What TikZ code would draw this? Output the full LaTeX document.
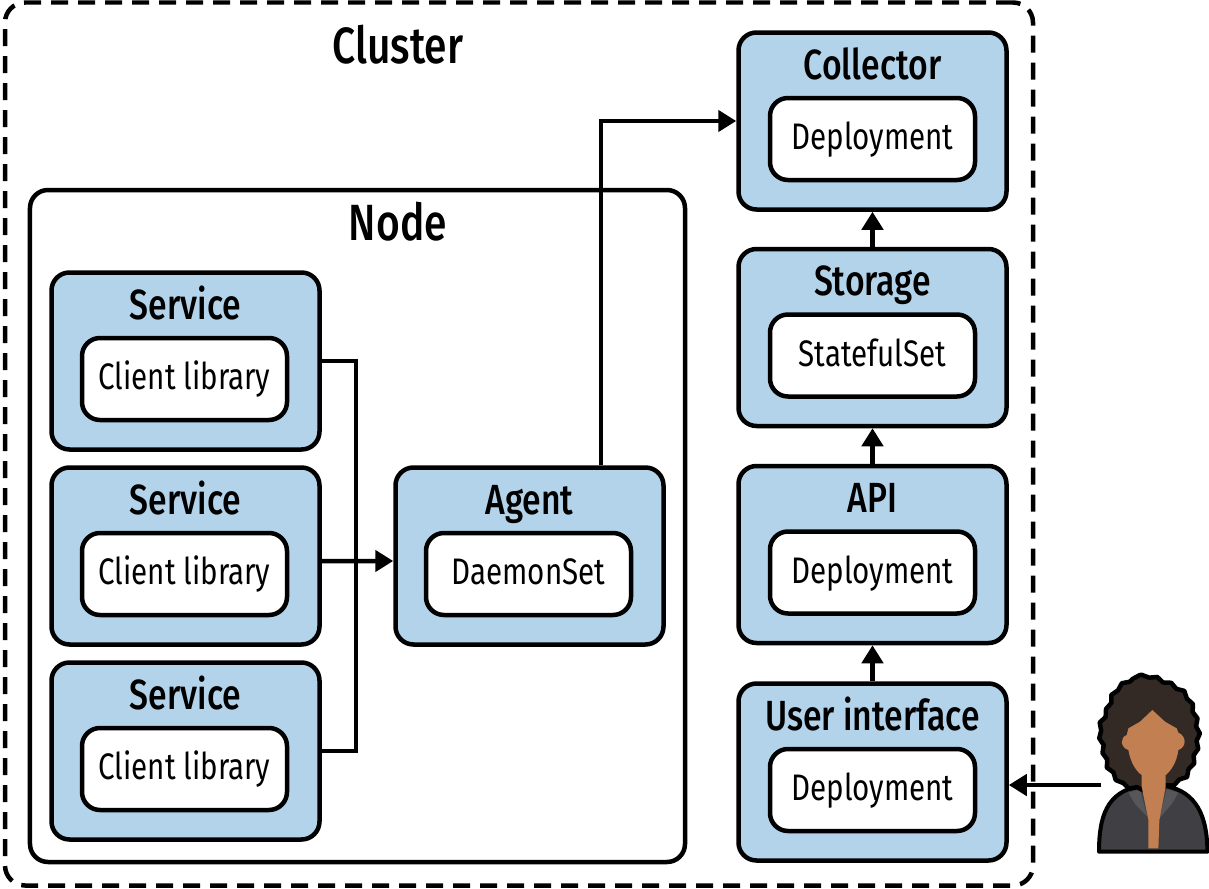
\documentclass[tikz,border=0pt]{standalone}
\usepackage{fontspec}
\setmainfont[FakeStretch=0.8]{Fira Sans}
\newfontfamily\titlefont[FakeStretch=0.8]{Fira Sans Medium}
\usepackage{xcolor}
\usetikzlibrary{arrows.meta,decorations.pathmorphing}
\definecolor{boxblue}{HTML}{B2D3EA}
\definecolor{hairbrown}{HTML}{332A26}
\definecolor{skintone}{HTML}{C17F52}
\definecolor{jacketgrey}{HTML}{403F44}
\definecolor{lapelgrey}{HTML}{57565A}
\tikzset{
    outerbox/.style = {rectangle, rounded corners=0.36cm, minimum width=5.36cm, minimum height=3.54cm, draw=black, line width=0.09cm, fill=boxblue},
    innerbox/.style = {rectangle, rounded corners=0.36cm, minimum width=4.1cm, minimum height=1.64cm, text centered, text height=0.6cm, text depth=0.18cm, draw=black, line width=0.09cm, fill=white, font=\fontsize{21}{25}\selectfont},
    boxtitle/.style = {anchor=base, font=\titlefont\fontsize{24}{28}\selectfont, inner sep=0pt},
    bigtitle/.style = {anchor=base, font=\titlefont\fontsize{29}{33}\selectfont, inner sep=0pt},
    arrow/.style = {line width=0.09cm,-{Triangle[length=0.36cm,width=0.42cm]}},
    wire/.style = {line width=0.09cm}
}

\begin{document}
\begin{tikzpicture}[node distance=3.9cm]
\useasboundingbox (0,0) rectangle (24.18,-17.78);
% outer frames
\node (cluster) [rectangle, rounded corners=0.4cm, minimum width=20.56cm, minimum height=17.66cm, draw=black, line width=0.09cm, dash pattern=on 0.34cm off 0.2cm] at (10.38,-8.88) {};
\node (clustertitle) [bigtitle] at (7.96,-1.26) {Cluster};
\node (node) [rectangle, rounded corners=0.36cm, minimum width=13.1cm, minimum height=13.44cm, draw=black, line width=0.09cm] at (7.15,-10.52) {};
\node (nodetitle) [bigtitle] at (7.96,-4.8) {Node};

% services on the left
\node (serviceA) [outerbox] at (3.71,-7.22) {};
\node (serviceB) [outerbox, below of=serviceA] {};
\node (serviceC) [outerbox, below of=serviceB] {};
\node (libA) [innerbox, xshift=-0.02cm, yshift=-0.36cm] at (serviceA) {Client library};
\node (libB) [innerbox, xshift=-0.02cm, yshift=-0.36cm] at (serviceB) {Client library};
\node (libC) [innerbox, xshift=-0.02cm, yshift=-0.36cm] at (serviceC) {Client library};
\node (titleA) [boxtitle, yshift=0.84cm] at (serviceA) {Service};
\node (titleB) [boxtitle, yshift=0.84cm] at (serviceB) {Service};
\node (titleC) [boxtitle, yshift=0.84cm] at (serviceC) {Service};

% agent
\node (agent) [outerbox] at (10.59,-11.12) {};
\node (daemon) [innerbox, xshift=-0.02cm, yshift=-0.36cm] at (agent) {DaemonSet};
\node (agenttitle) [boxtitle, yshift=0.84cm] at (agent) {Agent};

% column on the right
\node (collector) [outerbox] at (17.45,-2.42) {};
\node (storage) [outerbox, node distance=4.33cm, below of=collector] {};
\node (api) [outerbox, node distance=4.34cm, below of=storage] {};
\node (ui) [outerbox, node distance=4.35cm, below of=api] {};
\node (collectorbox) [innerbox, yshift=-0.36cm] at (collector) {Deployment};
\node (storagebox) [innerbox, yshift=-0.36cm] at (storage) {StatefulSet};
\node (apibox) [innerbox, yshift=-0.36cm] at (api) {Deployment};
\node (uibox) [innerbox, yshift=-0.36cm] at (ui) {Deployment};
\node (collectortitle) [boxtitle, yshift=0.84cm] at (collector) {Collector};
\node (storagetitle) [boxtitle, yshift=0.84cm] at (storage) {Storage};
\node (apititle) [boxtitle, yshift=0.84cm] at (api) {API};
\node (uititle) [boxtitle, yshift=0.84cm] at (ui) {User interface};

% person
\begin{scope}[shift={(20,-13.2)}, x=0.00667cm, y=-0.00667cm]
\fill [jacketgrey, draw=black, line width=0.08cm, line join=round] (297,575) .. controls (297,470) and (320,395) .. (420,378) -- (497,378) .. controls (590,395) and (622,470) .. (622,575) -- cycle;
\fill [lapelgrey] (385,398) -- (420,388) -- (442,470) -- (405,432) -- cycle;
\fill [lapelgrey] (535,398) -- (500,388) -- (478,475) -- (515,432) -- cycle;
\draw [fill=hairbrown, draw=black, line width=0.09cm, line join=round, decorate, decoration={snake, segment length=0.3cm, amplitude=0.03cm}] plot [smooth cycle] coordinates {(455,42) (400,55) (355,90) (330,150) (310,200) (322,270) (338,320) (375,365) (420,380) (490,380) (560,350) (590,300) (606,225) (595,155) (570,100) (530,70)};
\fill [skintone] (457,150) -- (420,185) -- (385,205) -- (380,225) .. controls (360,232) and (360,262) .. (385,270) .. controls (392,310) and (410,335) .. (425,345) -- (425,380) -- (445,480) -- (445,565) -- (475,565) -- (478,480) -- (497,380) -- (497,345) .. controls (510,335) and (530,310) .. (535,270) .. controls (560,262) and (560,228) .. (535,218) -- (530,205) -- (495,185) -- cycle;
\coordinate (person) at (303,375);
\end{scope}

% connectors
\draw [wire] (serviceA.east) -- ++(0.68,0) |- (serviceC.east);
\draw [arrow] ([yshift=-0.1cm]serviceB.east) -- ([yshift=-0.1cm]agent.west);
\draw [arrow] ([xshift=1.43cm]agent.north) |- (collector.west);
\draw [arrow] (storage) -- (collector);
\draw [arrow] (api) -- (storage);
\draw [arrow] (ui) -- (api);
\draw [arrow] (person) -- (person -| ui.east);
\end{tikzpicture}
\end{document}
